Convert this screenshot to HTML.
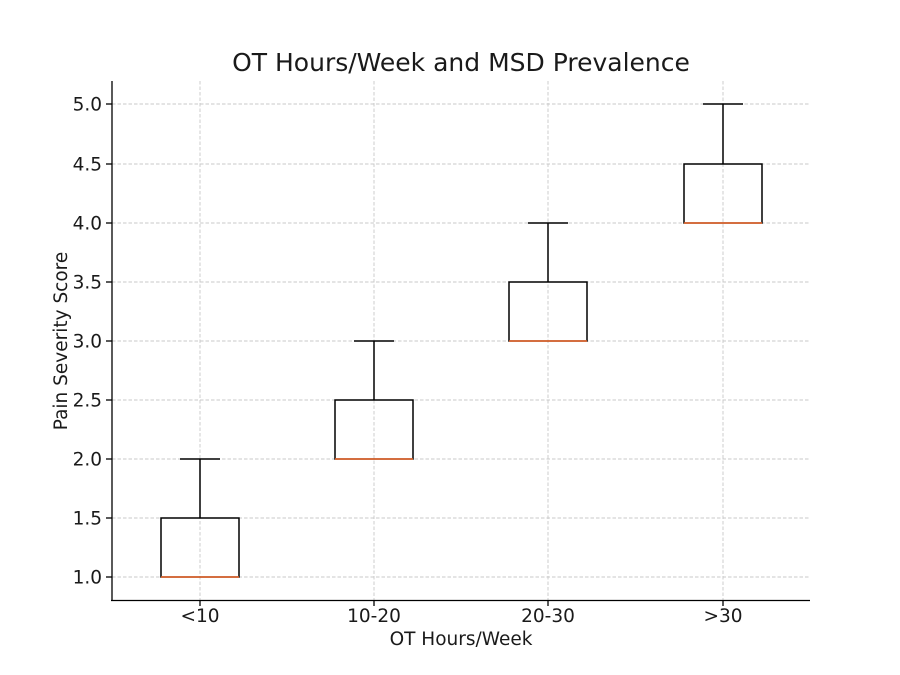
<!DOCTYPE html>
<html><head><meta charset="utf-8"><style>body{margin:0;background:#fff}svg{display:block}text{font-family:"DejaVu Sans","Liberation Sans",sans-serif;fill:#1a1a1a}</style></head>
<body>
<svg width="900" height="675" viewBox="0 0 900 675" xmlns="http://www.w3.org/2000/svg">
<rect width="900" height="675" fill="#fff"/>
<g stroke="#c8c8c8" stroke-width="0.9" stroke-dasharray="3.5,2">
<line x1="112" x2="810" y1="577" y2="577"/><line x1="112" x2="810" y1="518" y2="518"/>
<line x1="112" x2="810" y1="459" y2="459"/><line x1="112" x2="810" y1="400" y2="400"/>
<line x1="112" x2="810" y1="341" y2="341"/><line x1="112" x2="810" y1="282" y2="282"/>
<line x1="112" x2="810" y1="223" y2="223"/><line x1="112" x2="810" y1="164" y2="164"/>
<line x1="112" x2="810" y1="104" y2="104"/>
<line x1="200" x2="200" y1="81" y2="600"/><line x1="374" x2="374" y1="81" y2="600"/>
<line x1="548" x2="548" y1="81" y2="600"/><line x1="723" x2="723" y1="81" y2="600"/>
</g>
<g stroke="#000" stroke-width="1.5" fill="none">
<rect x="161" y="518" width="78" height="59"/><line x1="200" x2="200" y1="518" y2="459"/><line x1="180" x2="220" y1="459" y2="459"/>
<rect x="335" y="400" width="78" height="59"/><line x1="374" x2="374" y1="400" y2="341"/><line x1="354" x2="394" y1="341" y2="341"/>
<rect x="509" y="282" width="78" height="59"/><line x1="548" x2="548" y1="282" y2="223"/><line x1="528" x2="568" y1="223" y2="223"/>
<rect x="684" y="164" width="78" height="59"/><line x1="723" x2="723" y1="164" y2="104"/><line x1="703" x2="743" y1="104" y2="104"/>
</g>
<g stroke="#f0692a" stroke-width="1.5">
<line x1="161" x2="239" y1="577" y2="577"/><line x1="335" x2="413" y1="459" y2="459"/>
<line x1="509" x2="587" y1="341" y2="341"/><line x1="684" x2="762" y1="223" y2="223"/>
</g>
<g stroke="#000" stroke-width="1.3">
<line x1="112" x2="112" y1="81" y2="601"/><line x1="111" x2="810" y1="600.5" y2="600.5"/>
<line x1="106" x2="112" y1="577" y2="577"/><line x1="106" x2="112" y1="518" y2="518"/><line x1="106" x2="112" y1="459" y2="459"/>
<line x1="106" x2="112" y1="400" y2="400"/><line x1="106" x2="112" y1="341" y2="341"/><line x1="106" x2="112" y1="282" y2="282"/>
<line x1="106" x2="112" y1="223" y2="223"/><line x1="106" x2="112" y1="164" y2="164"/><line x1="106" x2="112" y1="104" y2="104"/>
<line x1="200" x2="200" y1="600" y2="606"/><line x1="374" x2="374" y1="600" y2="606"/><line x1="548" x2="548" y1="600" y2="606"/><line x1="723" x2="723" y1="600" y2="606"/>
</g>
<g font-size="18.5" text-anchor="end">
<text x="102" y="583.5">1.0</text><text x="102" y="524.5">1.5</text><text x="102" y="465.5">2.0</text>
<text x="102" y="406.5">2.5</text><text x="102" y="347.5">3.0</text><text x="102" y="288.5">3.5</text>
<text x="102" y="229.5">4.0</text><text x="102" y="170.5">4.5</text><text x="102" y="110.5">5.0</text>
</g>
<g font-size="18.5" text-anchor="middle">
<text x="200" y="622">&lt;10</text><text x="374" y="622">10-20</text><text x="548" y="622">20-30</text><text x="723" y="622">&gt;30</text>
<text x="461" y="645">OT Hours/Week</text>
<text transform="translate(67,341) rotate(-90)">Pain Severity Score</text>
<text x="461" y="71" font-size="25">OT Hours/Week and MSD Prevalence</text>
</g>
</svg>
</body></html>
